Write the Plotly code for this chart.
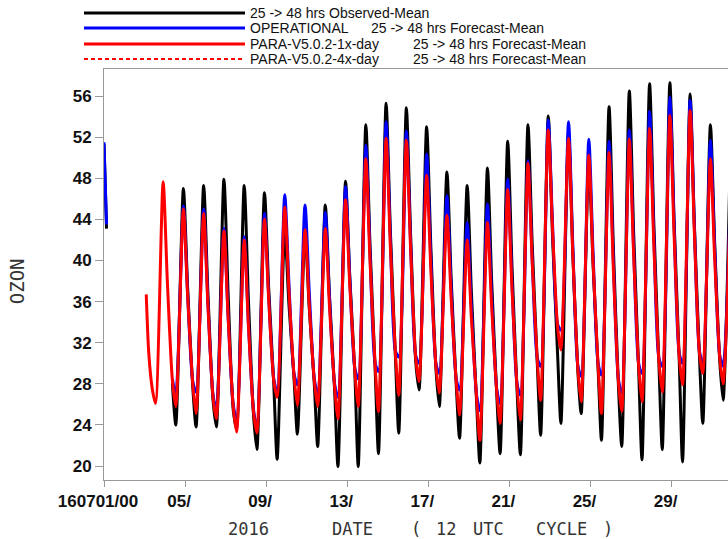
import plotly.graph_objects as go
from datetime import datetime, timedelta

START = datetime(2016, 7, 1)

# Day of month for each diurnal cycle (shoulder 09Z, trough 13Z, peak 22Z, evening 03Z next day)
cycle_days = list(range(3, 32))

# ---- 25 -> 48 hrs Observed-Mean (black) ----
obs_head_hours = [0, 1, 2, 3]
obs_head = [51.3, 48.6, 45.9, 43.1]
obs_shoulder = [None, 28.0, 27.8, 26.5, 25.5, 25.0, 28.0, 28.5, 28.0, 27.5, 29.0, 29.5, 30.7, 30.3,
                29.5, 28.0, 26.5, 27.0, 27.5, 30.0, 31.0, 29.3, 29.5, 28.0, 29.5, 30.0, 30.5, 30.7, 30.3]
obs_trough = [None, 24.0, 23.8, 23.8, 23.6, 21.6, 20.65, 23.1, 21.9, 19.95, 19.95, 21.2, 23.2, 27.4,
              25.8, 22.7, 20.3, 21.2, 21.1, 23.0, 24.15, 25.1, 22.5, 21.9, 20.6, 21.6, 20.4, 24.15, 26.4]
obs_peak = [None, 47.0, 47.3, 47.9, 47.3, 46.6, 42.9, 42.7, 45.4, 47.7, 53.2, 55.3, 54.85, 53.0,
            48.6, 47.3, 49.0, 51.6, 53.2, 54.05, 52.5, 49.8, 54.95, 56.5, 57.2, 57.3, 56.2, 53.2, 52.0]
obs_evening = [None, 37.4, 36.9, 36.7, 36.2, 37.3, 35.7, 35.4, 36.5, 38.4, 41.4, 43.0, 42.6, 41.3,
               38.3, 36.9, 38.0, 39.6, 41.6, 42.5, 40.9, 39.7, 41.5, 43.0, 43.6, 43.9, 43.5, 41.8, None]

# ---- OPERATIONAL 25 -> 48 hrs Forecast-Mean (blue) ----
opr_head_hours = [0, 1, 2, 3]
opr_head = [51.5, 48.8, 46.1, 43.5]
opr_shoulder = [None, 28.5, 28.3, 27.0, 26.0, 25.5, 28.5, 29.0, 28.5, 28.0, 29.5, 30.0, 31.2, 30.8,
                30.0, 28.5, 27.0, 27.5, 28.0, 30.5, 33.8, 29.8, 30.0, 28.5, 30.0, 30.5, 31.0, 31.2, 30.8]
opr_trough = [None, 26.8, 27.2, 25.4, 24.5, 23.8, 27.2, 27.9, 27.0, 26.7, 28.5, 29.2, 30.6, 30.0,
              29.0, 27.4, 25.4, 26.1, 26.9, 29.7, 33.2, 28.7, 28.85, 27.1, 29.0, 29.7, 30.0, 30.1, 29.7]
opr_peak = [None, 45.3, 45.0, 43.1, 42.3, 44.6, 46.4, 45.4, 44.7, 47.2, 51.2, 53.5, 52.6, 50.35,
            46.3, 43.7, 45.5, 47.9, 49.7, 53.66, 53.5, 51.8, 51.6, 52.7, 54.5, 55.9, 55.6, 51.7, 48.0]
opr_evening = [None, 36.8, 36.0, 34.5, 33.9, 36.5, 37.7, 37.0, 36.3, 38.3, 40.6, 42.3, 41.7, 40.2,
               37.4, 35.4, 36.5, 38.0, 40.1, 43.7, 41.7, 40.9, 40.1, 41.4, 42.5, 43.5, 43.4, 41.3, None]

# ---- PARA-V5.0.2-1x-day 25 -> 48 hrs Forecast-Mean (red) ----
p1x_head_hours = [50, 53]
p1x_head = [36.7, 31.0]
p1x_shoulder = [27.6, 28.3, 28.1, 26.8, 25.8, 25.3, 28.3, 28.8, 28.3, 27.8, 29.3, 29.8, 31.0, 30.6,
                29.8, 28.3, 26.8, 27.3, 27.8, 30.3, 33.6, 29.6, 29.8, 28.3, 29.8, 30.3, 30.8, 31.0, 30.6]
p1x_trough = [26.1, 25.8, 25.1, 24.6, 23.3, 23.2, 26.7, 25.9, 25.8, 24.6, 25.8, 25.3, 26.9, 28.2,
              27.1, 24.96, 22.5, 24.15, 24.5, 26.4, 31.3, 26.25, 25.1, 25.3, 26.25, 27.2, 27.9, 29.0, 28.0]
p1x_peak = [47.66, 45.0, 44.6, 42.9, 42.0, 44.0, 45.2, 43.0, 43.1, 45.9, 49.9, 51.9, 51.7, 48.3,
            44.4, 42.0, 43.7, 46.9, 49.45, 52.7, 51.9, 50.25, 50.5, 51.8, 52.85, 54.1, 54.6, 49.9, 47.0]
p1x_evening = [38.0, 36.6, 35.7, 34.4, 33.7, 36.2, 37.0, 35.7, 35.5, 37.6, 39.9, 41.5, 41.2, 39.1,
               36.4, 34.4, 35.5, 37.4, 39.9, 43.2, 40.8, 40.0, 39.4, 40.8, 41.6, 42.5, 42.8, 40.3, None]

x_tick_days = [1, 5, 9, 13, 17, 21, 25, 29]
x_tick_text = ["160701/00", "05/", "09/", "13/", "17/", "21/", "25/", "29/"]
y_tick_vals = [20, 24, 28, 32, 36, 40, 44, 48, 52, 56]

legend_rows = [
    ("25 -> 48 hrs Observed-Mean", ""),
    ("OPERATIONAL", "25 -> 48 hrs Forecast-Mean"),
    ("PARA-V5.0.2-1x-day", "25 -> 48 hrs Forecast-Mean"),
    ("PARA-V5.0.2-4x-day", "25 -> 48 hrs Forecast-Mean"),
]


def at(day, hour):
    return START + timedelta(days=day - 1, hours=hour)


def build(head_hours, head, shoulder, trough, peak, evening, gap_after_head):
    xs = [START + timedelta(hours=h) for h in head_hours]
    ys = list(head)
    if gap_after_head:
        xs.append(xs[-1] + timedelta(hours=1))
        ys.append(None)
    for i, d in enumerate(cycle_days):
        for val, when in ((shoulder[i], at(d, 9)), (trough[i], at(d, 13)),
                          (peak[i], at(d, 22)), (evening[i], at(d + 1, 3))):
            if val is not None:
                xs.append(when)
                ys.append(val)
    return xs, ys


series = [
    ("Observed", build(obs_head_hours, obs_head, obs_shoulder, obs_trough, obs_peak, obs_evening, True), "#000000"),
    ("OPERATIONAL", build(opr_head_hours, opr_head, opr_shoulder, opr_trough, opr_peak, opr_evening, True), "#0000ff"),
    ("PARA-V5.0.2-1x-day", build(p1x_head_hours, p1x_head, p1x_shoulder, p1x_trough, p1x_peak, p1x_evening, False), "#ff0000"),
]

fig = go.Figure()
for name, (xs, ys), color in series:
    fig.add_trace(go.Scatter(
        x=xs, y=ys, mode="lines", name=name, connectgaps=False,
        line=dict(color=color, width=3, shape="spline", smoothing=0.7),
        hoverinfo="skip", showlegend=False,
    ))

# plot frame geometry (pixels)
L, T, W, H = 104, 69, 624, 411
FIG_W, FIG_H = 728, 539


def px(x):
    return (x - L) / W


def py(y):
    return (T + H - y) / H


# Hand-drawn legend above the plot
legend_font = dict(family="Liberation Sans, Arial", size=14, color="#111")
row_y = [13, 28, 44, 59]
row_style = [("#000000", "solid", 3), ("#0000ff", "solid", 3), ("#ff0000", "solid", 3), ("#ff0000", "4px,3px", 2)]
shapes = []
annotations = []
for (left, right), yy, (col, dash, wd) in zip(legend_rows, row_y, row_style):
    shapes.append(dict(type="line", xref="paper", yref="paper", x0=px(84), x1=px(245), y0=py(yy), y1=py(yy),
                       line=dict(color=col, width=wd, dash=dash)))
    annotations.append(dict(xref="paper", yref="paper", x=px(248), y=py(yy), text=left, showarrow=False,
                            xanchor="left", yanchor="middle", font=legend_font))
right_x = {1: 369, 2: 411, 3: 411}
for i, (left, right) in enumerate(legend_rows):
    if right:
        annotations.append(dict(xref="paper", yref="paper", x=px(right_x[i]), y=py(row_y[i]), text=right,
                                showarrow=False, xanchor="left", yanchor="middle", font=legend_font))

# Axis titles
title_font = dict(family="DejaVu Sans Mono", size=17, color="#333")
for word, x0 in [("2016", 226), ("DATE", 330), ("(", 409), ("12", 434), ("UTC", 471), ("CYCLE", 534), (")", 601)]:
    annotations.append(dict(xref="paper", yref="paper", x=px(x0), y=py(529), text=word, showarrow=False,
                            xanchor="left", yanchor="middle", font=title_font))
annotations.append(dict(xref="paper", yref="paper", x=px(16.5), y=py(281.7), text="OZON", showarrow=False,
                        textangle=-90, xanchor="center", yanchor="middle",
                        font=dict(family="DejaVu Sans Mono", size=19, color="#333")))

tick_font = dict(family="Liberation Sans, Arial", size=17, color="#111")
fig.update_layout(
    width=FIG_W, height=FIG_H,
    margin=dict(l=L, r=FIG_W - L - W, t=T, b=FIG_H - T - H),
    paper_bgcolor="white", plot_bgcolor="white",
    showlegend=False,
    shapes=shapes, annotations=annotations,
    xaxis=dict(
        type="date",
        range=[START, START + timedelta(days=W / 20.27)],
        tickvals=[at(d, 0) for d in x_tick_days], ticktext=x_tick_text,
        ticks="outside", ticklen=6, tickcolor="#999", tickwidth=1,
        showline=True, linecolor="#999", linewidth=1, mirror=True,
        showgrid=False, zeroline=False,
        tickfont=dict(tick_font, weight="bold"), ticklabelshift=-6,
    ),
    yaxis=dict(
        range=[18.64, 58.63],
        tickvals=y_tick_vals,
        ticks="outside", ticklen=8, tickcolor="#999", tickwidth=1,
        showline=True, linecolor="#999", linewidth=1, mirror=False,
        showgrid=False, zeroline=False,
        tickfont=dict(tick_font, weight="bold"),
    ),
)

fig.write_html("out.html")
